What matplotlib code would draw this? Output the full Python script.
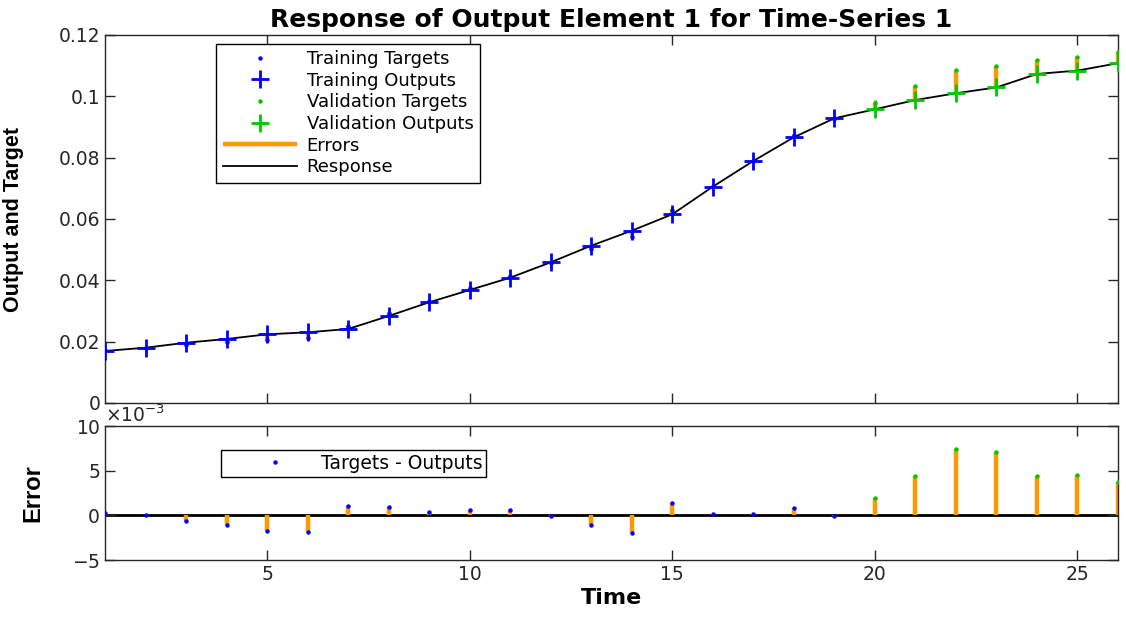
import matplotlib
matplotlib.use("Agg")
import matplotlib.pyplot as plt
import numpy as np
from matplotlib.ticker import FuncFormatter, ScalarFormatter

plt.rcParams['font.family'] = ['DejaVu Sans']
plt.rcParams['axes.unicode_minus'] = False

# ---- data ----
time = list(range(1, 27))
outputs = [0.01696, 0.01803, 0.01966, 0.02087, 0.0224, 0.02305, 0.02413, 0.02837,
           0.03284, 0.03685, 0.04086, 0.04588, 0.0513, 0.05619, 0.06153, 0.07054,
           0.07892, 0.08664, 0.09284, 0.09577, 0.0988, 0.101, 0.1029, 0.1073,
           0.1084, 0.1108]
errors = [0.30e-3, 0.0, -0.67e-3, -1.1e-3, -1.8e-3, -1.85e-3, 1.1e-3, 0.96e-3,
          0.33e-3, 0.55e-3, 0.55e-3, -0.10e-3, -1.04e-3, -1.96e-3, 1.37e-3, 0.18e-3,
          0.15e-3, 0.85e-3, -0.10e-3, 1.97e-3, 4.45e-3, 7.45e-3, 7.05e-3, 4.4e-3,
          4.55e-3, 3.72e-3]
n_train = 19  # time steps 1..19 training, 20..26 validation
yticks_top = [0, 0.02, 0.04, 0.06, 0.08, 0.1, 0.12]
yticks_bot = [-5e-3, 0, 5e-3, 10e-3]
xticks = [5, 10, 15, 20, 25]

t = np.array(time)
out = np.array(outputs)
err = np.array(errors)
tgt = out + err
tr = slice(0, n_train)
va = slice(n_train, len(time))

BLUE = '#0000ff'
GREEN = '#00c800'
ORANGE = '#ff9900'
SPINE = '#262626'
NARROW = ['Liberation Sans', 'DejaVu Sans']

fig = plt.figure(figsize=(11.26, 6.18), dpi=100)
ax1 = fig.add_axes([105/1126, (618-403)/618, 1013/1126, 368/618])
ax2 = fig.add_axes([105/1126, (618-560)/618, 1013/1126, 134/618])

# ---- top ----
h_err = None
for ti, o, g in zip(t, out, tgt):
    h_err, = ax1.plot([ti, ti], [o, g], color=ORANGE, lw=3.2, solid_capstyle='butt', zorder=2)
h_resp, = ax1.plot(t, out, color='black', lw=1.3, zorder=3)
h_tt, = ax1.plot(t[tr], tgt[tr], 'o', color=BLUE, ms=3.2, mew=0, zorder=4, linestyle='none')
h_to, = ax1.plot(t[tr], out[tr], '+', color=BLUE, ms=13, mew=2, zorder=5, linestyle='none')
h_vt, = ax1.plot(t[va], tgt[va], 'o', color=GREEN, ms=3.2, mew=0, zorder=4, linestyle='none')
h_vo, = ax1.plot(t[va], out[va], '+', color=GREEN, ms=13, mew=2, zorder=5, linestyle='none')

ax1.set_xlim(1, 26)
ax1.set_ylim(0, 0.12)
ax1.set_yticks(yticks_top)
ax1.yaxis.set_major_formatter(FuncFormatter(lambda v, p: '%g' % round(v, 4)))
ax1.set_xticks(xticks)
ax1.set_xticklabels([])
ax1.set_title('Response of Output Element 1 for Time-Series 1', fontsize=18,
              fontweight='bold', pad=6)
ax1.set_ylabel('Output and Target', fontsize=15.5, fontweight='bold', family=NARROW)
ax1.yaxis.set_label_coords(-0.080, 0.5)

leg1 = ax1.legend([h_tt, h_to, h_vt, h_vo, h_err, h_resp],
                  ['Training Targets', 'Training Outputs', 'Validation Targets',
                   'Validation Outputs', 'Errors', 'Response'],
                  loc='upper left', bbox_to_anchor=(0.110, 0.976), fontsize=13,
                  frameon=True, fancybox=False, edgecolor='black', framealpha=1,
                  handlelength=4.1, borderpad=0.35, labelspacing=0.2,
                  handletextpad=0.55, borderaxespad=0)
leg1.get_frame().set_linewidth(1.0)

# ---- bottom ----
ax2.axhline(0, color='black', lw=2, zorder=1)
for ti, e in zip(t, err):
    ax2.plot([ti, ti], [0, e], color=ORANGE, lw=3.2, solid_capstyle='butt', zorder=2)
h_e, = ax2.plot(t[tr], err[tr], 'o', color=BLUE, ms=3.2, mew=0, zorder=4, linestyle='none')
ax2.plot(t[va], err[va], 'o', color=GREEN, ms=3.2, mew=0, zorder=4, linestyle='none')
ax2.set_xlim(1, 26)
ax2.set_ylim(-5e-3, 10e-3)
ax2.set_yticks(yticks_bot)
sf = ScalarFormatter(useMathText=True)
sf.set_powerlimits((-3, -3))
ax2.yaxis.set_major_formatter(sf)
ax2.set_xticks(xticks)
ax2.set_xlabel('Time', fontsize=16, fontweight='bold', labelpad=3)
ax2.set_ylabel('Error', fontsize=17, fontweight='bold', family=NARROW)
ax2.yaxis.set_label_coords(-0.060, 0.5)
leg2 = ax2.legend([h_e], ['Targets - Outputs'], loc='upper left',
                  bbox_to_anchor=(0.115, 0.82), fontsize=13.5,
                  frameon=True, fancybox=False, edgecolor='black', framealpha=1,
                  handlelength=5.3, borderpad=0.2, handletextpad=-0.2, borderaxespad=0)
leg2.get_frame().set_linewidth(1.0)

for ax in (ax1, ax2):
    for s in ax.spines.values():
        s.set_color(SPINE)
        s.set_linewidth(1.0)
    ax.tick_params(direction='in', top=True, right=True, length=7, width=1,
                   colors=SPINE, labelcolor='#262626', labelsize=13.5)
ax2.yaxis.get_offset_text().set_fontsize(13.5)
ax2.yaxis.get_offset_text().set_color('#262626')

fig.savefig('out.png', dpi=100)
